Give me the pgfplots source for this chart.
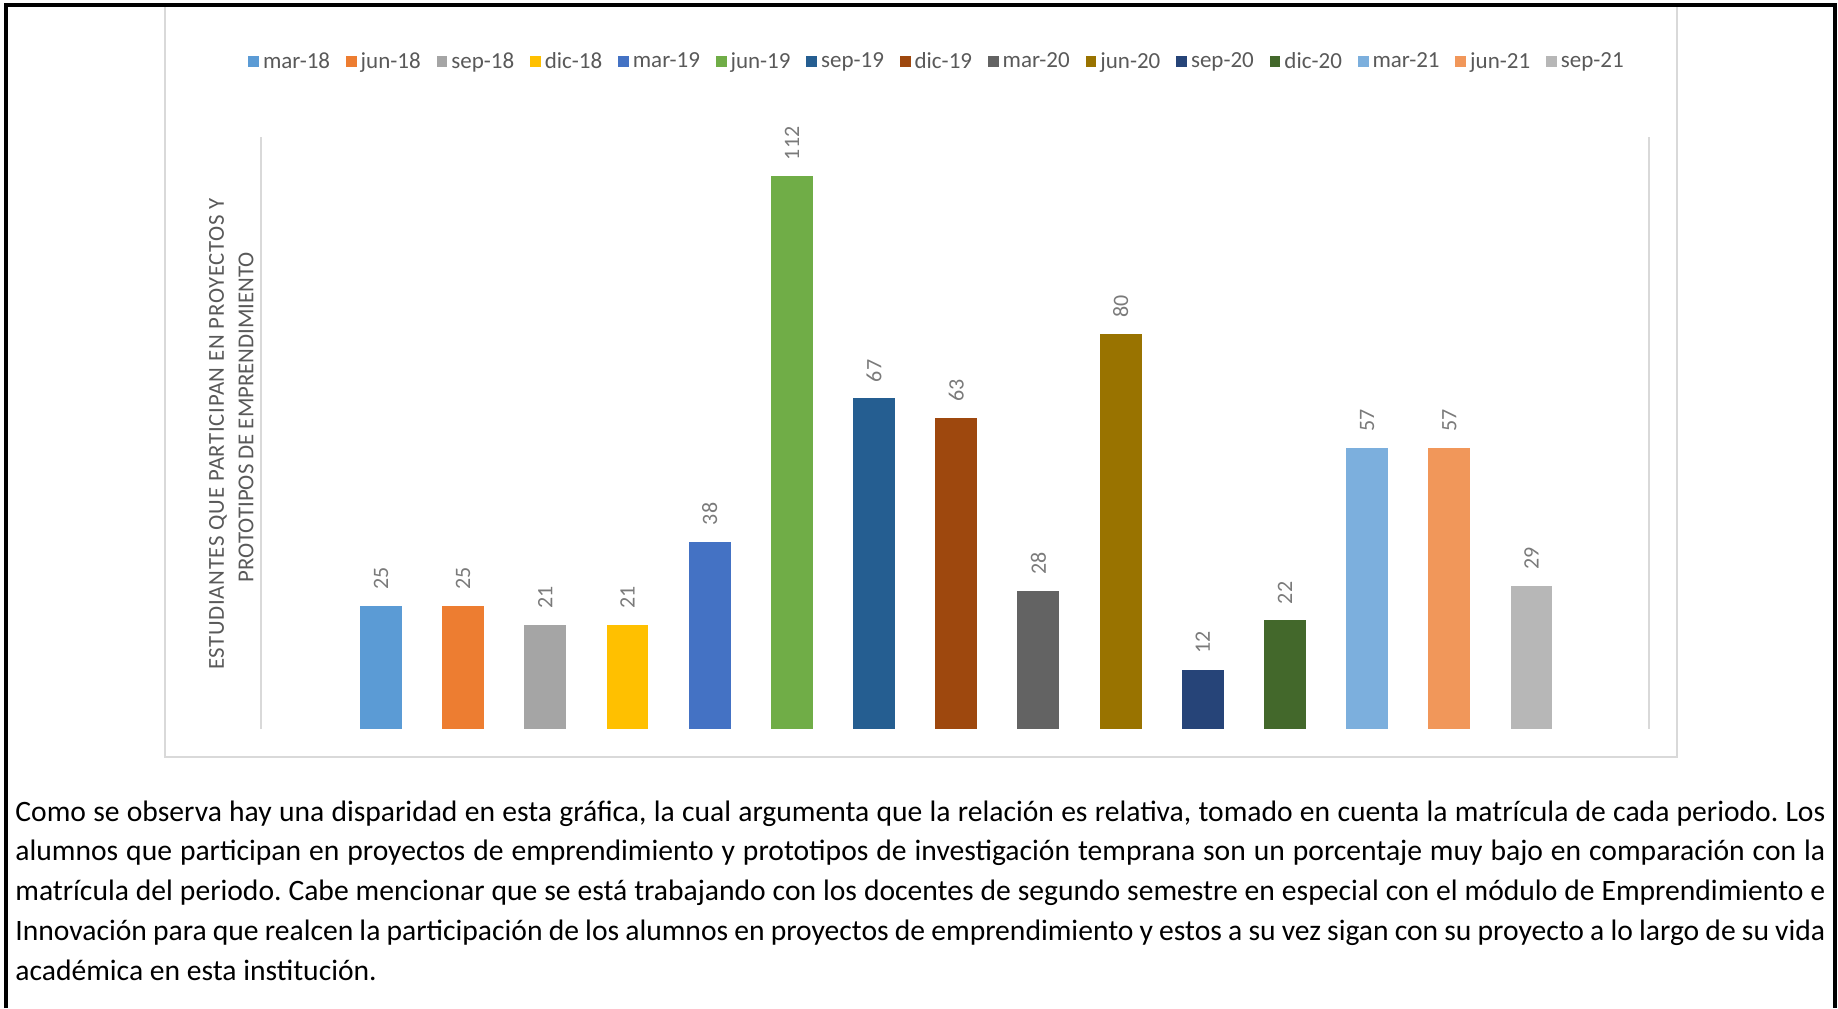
\documentclass[border=0pt]{standalone}
\usepackage{pgfplots}
\pgfplotsset{compat=1.18}
\usepackage{fontspec}
\setmainfont{Carlito}
\frenchspacing

\definecolor{c1}{HTML}{5B9BD5}
\definecolor{c2}{HTML}{ED7D31}
\definecolor{c3}{HTML}{A5A5A5}
\definecolor{c4}{HTML}{FFC000}
\definecolor{c5}{HTML}{4472C4}
\definecolor{c6}{HTML}{70AD47}
\definecolor{c7}{HTML}{255E91}
\definecolor{c8}{HTML}{9E480E}
\definecolor{c9}{HTML}{636363}
\definecolor{c10}{HTML}{997300}
\definecolor{c11}{HTML}{264478}
\definecolor{c12}{HTML}{43682B}
\definecolor{c13}{HTML}{7CAFDD}
\definecolor{c14}{HTML}{F1975A}
\definecolor{c15}{HTML}{B7B7B7}
\definecolor{txtgray}{HTML}{595959}
\definecolor{lblgray}{HTML}{7A7A7A}
\definecolor{linegray}{HTML}{D9D9D9}

\pgfplotsset{
  barra/.style={fill=#1, draw=none, bar shift=0pt,
    legend image code/.code={\fill[##1] (0pt,-2.7pt) rectangle (5.4pt,2.7pt);}},
}

\newcommand{\linea}[1]{\makebox[905pt][s]{#1}}

\begin{document}
\begin{tikzpicture}
\useasboundingbox (0,0) rectangle (919pt,504pt);

% recuadro del grafico
\draw[color=linegray, line width=1pt] (82.5pt,501pt) rectangle (838.5pt,125.5pt);

\begin{axis}[
    at={(130.5pt,139.5pt)}, anchor=south west,
    scale only axis,
    width=694pt, height=296pt,
    hide axis,
    clip=false,
    ybar,
    bar width=0.51,
    xmin=-1.46, xmax=15.43,
    ymin=0, ymax=120,
    nodes near coords,
    nodes near coords style={rotate=90, anchor=west, inner xsep=8pt, inner ysep=0pt,
      font=\fontsize{11}{13}\selectfont, text=lblgray,
      /pgf/number format/assume math mode=true},
    legend columns=15,
    legend style={at={(axis description cs:0.4863,1.127)}, anchor=center,
      draw=none, fill=none, font=\fontsize{11.5}{13}\selectfont, text=txtgray,
      nodes={inner sep=0pt},
      /tikz/every odd column/.append style={column sep=2pt},
      /tikz/every even column/.append style={column sep=7.9pt}},
  ]
  \addplot[barra=c1]  coordinates {(0,25)};   \addlegendentry{mar-18}
  \addplot[barra=c2]  coordinates {(1,25)};   \addlegendentry{jun-18}
  \addplot[barra=c3]  coordinates {(2,21)};   \addlegendentry{sep-18}
  \addplot[barra=c4]  coordinates {(3,21)};   \addlegendentry{dic-18}
  \addplot[barra=c5]  coordinates {(4,38)};   \addlegendentry{mar-19}
  \addplot[barra=c6]  coordinates {(5,112)};  \addlegendentry{jun-19}
  \addplot[barra=c7]  coordinates {(6,67)};   \addlegendentry{sep-19}
  \addplot[barra=c8]  coordinates {(7,63)};   \addlegendentry{dic-19}
  \addplot[barra=c9]  coordinates {(8,28)};   \addlegendentry{mar-20}
  \addplot[barra=c10] coordinates {(9,80)};   \addlegendentry{jun-20}
  \addplot[barra=c11] coordinates {(10,12)};  \addlegendentry{sep-20}
  \addplot[barra=c12] coordinates {(11,22)};  \addlegendentry{dic-20}
  \addplot[barra=c13] coordinates {(12,57)};  \addlegendentry{mar-21}
  \addplot[barra=c14] coordinates {(13,57)};  \addlegendentry{jun-21}
  \addplot[barra=c15] coordinates {(14,29)};  \addlegendentry{sep-21}

  \draw[color=linegray, line width=1.2pt] (rel axis cs:0,0) -- (rel axis cs:0,1);
  \draw[color=linegray, line width=1.2pt] (rel axis cs:1,0) -- (rel axis cs:1,1);
\end{axis}

% titulo del eje (dos lineas)
\node[rotate=90, text=txtgray, inner sep=0pt, font=\fontsize{11.4}{14}\selectfont\addfontfeatures{LetterSpace=3}]
  at (109pt,287pt) {ESTUDIANTES QUE PARTICIPAN EN PROYECTOS Y};
\node[rotate=90, text=txtgray, inner sep=0pt, font=\fontsize{11.4}{14}\selectfont]
  at (123pt,295.5pt) {PROTOTIPOS DE EMPRENDIMIENTO};

% marco exterior
\draw[line width=2pt] (3pt,0) -- (3pt,501.5pt) -- (917.5pt,501.5pt) -- (917.5pt,0);

% texto
\begin{scope}[every node/.style={anchor=base west, inner sep=0pt, font=\fontsize{14.8}{18}\selectfont}]
\node at (7.5pt,93.5pt) {\linea{Como se observa hay una disparidad en esta gráfica, la cual argumenta que la relación es relativa, tomado en cuenta la matrícula de cada periodo. Los}};
\node at (7.5pt,73.6pt) {\linea{alumnos que participan en proyectos de emprendimiento y prototipos de investigación temprana son un porcentaje muy bajo en comparación con la}};
\node at (7.5pt,53.7pt) {\linea{matrícula del periodo. Cabe mencionar que se está trabajando con los docentes de segundo semestre en especial con el módulo de Emprendimiento e}};
\node at (7.5pt,33.9pt) {\linea{Innovación para que realcen la participación de los alumnos en proyectos de emprendimiento y estos a su vez sigan con su proyecto a lo largo de su vida}};
\node at (7.5pt,14pt)   {académica en esta institución.};
\end{scope}
\end{tikzpicture}
\end{document}
